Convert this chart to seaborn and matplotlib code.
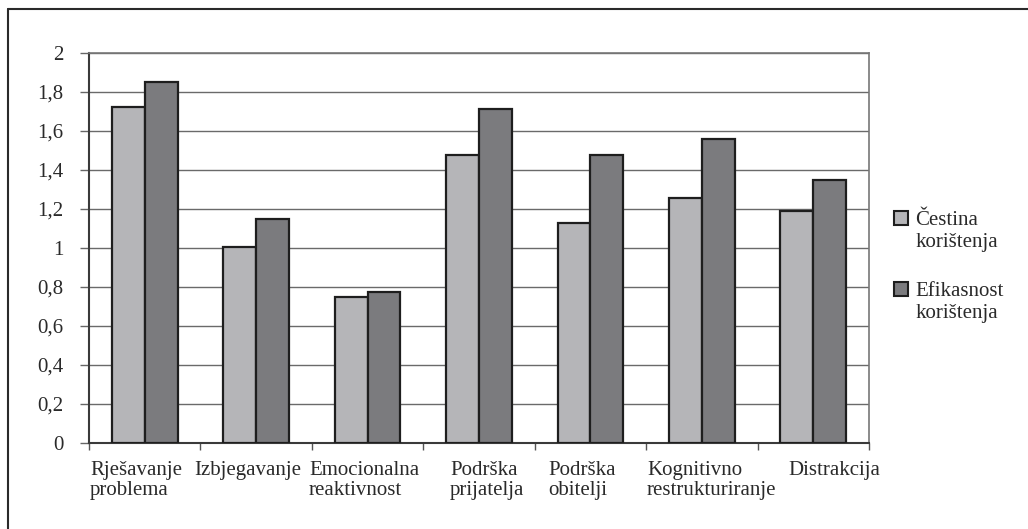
import numpy as np
import pandas as pd
import matplotlib
matplotlib.use("Agg")
import matplotlib.pyplot as plt
import seaborn as sns
from matplotlib.lines import Line2D
from matplotlib.ticker import FuncFormatter, FixedLocator

categories = ["Rješavanje\nproblema", "Izbjegavanje", "Emocionalna\nreaktivnost",
              "Podrška\nprijatelja", "Podrška\nobitelji", "Kognitivno\nrestrukturiranje",
              "Distrakcija"]
series_first = ["Čestina", "Efikasnost"]
series_second = ["korištenja", "korištenja"]
cestina = [1.725, 1.005, 0.75, 1.477, 1.13, 1.256, 1.19]
efikasnost = [1.85, 1.15, 0.774, 1.711, 1.478, 1.56, 1.349]
y_ticks = [0, 0.2, 0.4, 0.6, 0.8, 1.0, 1.2, 1.4, 1.6, 1.8, 2.0]

df = pd.DataFrame({
    "kategorija": categories * 2,
    "serija": [series_first[0]] * len(categories) + [series_first[1]] * len(categories),
    "vrijednost": cestina + efikasnost,
})

sns.set_theme(style="white")
plt.rcParams["font.family"] = ["Liberation Serif", "DejaVu Serif"]

W, H = 1028, 529
fig = plt.figure(figsize=(W / 100, H / 100), dpi=100)
ax = fig.add_axes([89 / W, 1 - 443 / H, 780 / W, 390 / H])

light = "#b4b5b8"
dark = "#7a7b7f"
sns.barplot(data=df, x="kategorija", y="vrijednost", hue="serija",
            order=categories, hue_order=series_first,
            palette=[light, dark], width=0.59, gap=0,
            edgecolor="#1e1e1e", linewidth=1.6, ax=ax, zorder=3)

ax.set_xlim(-0.5, 6.5)
ax.set_ylim(0, 2)
ax.set_yticks(y_ticks)
ax.yaxis.set_major_formatter(FuncFormatter(lambda v, p: ("%g" % round(v, 1)).replace(".", ",")))
ax.grid(axis="y", color="#6a6a6a", linewidth=1.0, zorder=0)
ax.grid(axis="x", visible=False)
ax.set_axisbelow(True)

# category boundary ticks (minor) and left-aligned labels (major, no tick mark)
slot_px = 780 / 7
label_left_px = [90, 194, 309, 450, 548, 647, 788]
label_pos = [(px - 89) / slot_px - 0.5 for px in label_left_px]
ax.xaxis.set_minor_locator(FixedLocator(np.arange(-0.5, 7, 1)))
ax.set_xticks(label_pos)
ax.set_xticklabels(categories)
for lbl in ax.get_xticklabels():
    lbl.set_ha("left")
    lbl.set_multialignment("left")
    lbl.set_linespacing(1.1)

ax.tick_params(axis="x", which="major", length=0, labelsize=15, pad=13, labelcolor="#2a2a2a")
ax.tick_params(axis="x", which="minor", direction="out", length=5, width=1, color="#555555",
               bottom=True)
ax.tick_params(axis="y", direction="out", length=6.5, width=1, color="#666666",
               labelsize=15, pad=12, labelcolor="#2a2a2a", left=True)
ax.set_xlabel("")
ax.set_ylabel("")

for side in ["left", "bottom"]:
    ax.spines[side].set_color("#3a3a3a")
    ax.spines[side].set_linewidth(1.5)
for side in ["top", "right"]:
    ax.spines[side].set_color("#777777")
    ax.spines[side].set_linewidth(1.2)

handles, labels = ax.get_legend_handles_labels()
leg = ax.legend(handles, labels, loc="upper left", bbox_to_anchor=(894 / W, 1 - 211 / H),
                bbox_transform=fig.transFigure, frameon=False, fontsize=15,
                handlelength=0.68, handleheight=0.68, handletextpad=0.35,
                labelspacing=2.45, borderpad=0, borderaxespad=0, labelcolor="#2a2a2a")
for h in leg.legend_handles:
    h.set_edgecolor("#1e1e1e")
    h.set_linewidth(1.5)

fig.canvas.draw()
inv = fig.transFigure.inverted()
for txt, second in zip(leg.get_texts(), series_second):
    bb = txt.get_window_extent()
    x0, y0 = inv.transform((bb.x0, bb.y0))
    fig.text(x0, y0 - 3 / H, second, ha="left", va="top", fontsize=15, color="#2a2a2a")

fig.add_artist(Line2D([8 / W, 1.0], [1 - 9 / H, 1 - 9 / H],
                      transform=fig.transFigure, color="#2a2a2a", linewidth=1.5))
fig.add_artist(Line2D([8 / W, 8 / W], [0.0, 1 - 9 / H],
                      transform=fig.transFigure, color="#2a2a2a", linewidth=1.5))

fig.savefig("out.png", dpi=100, facecolor="white")
